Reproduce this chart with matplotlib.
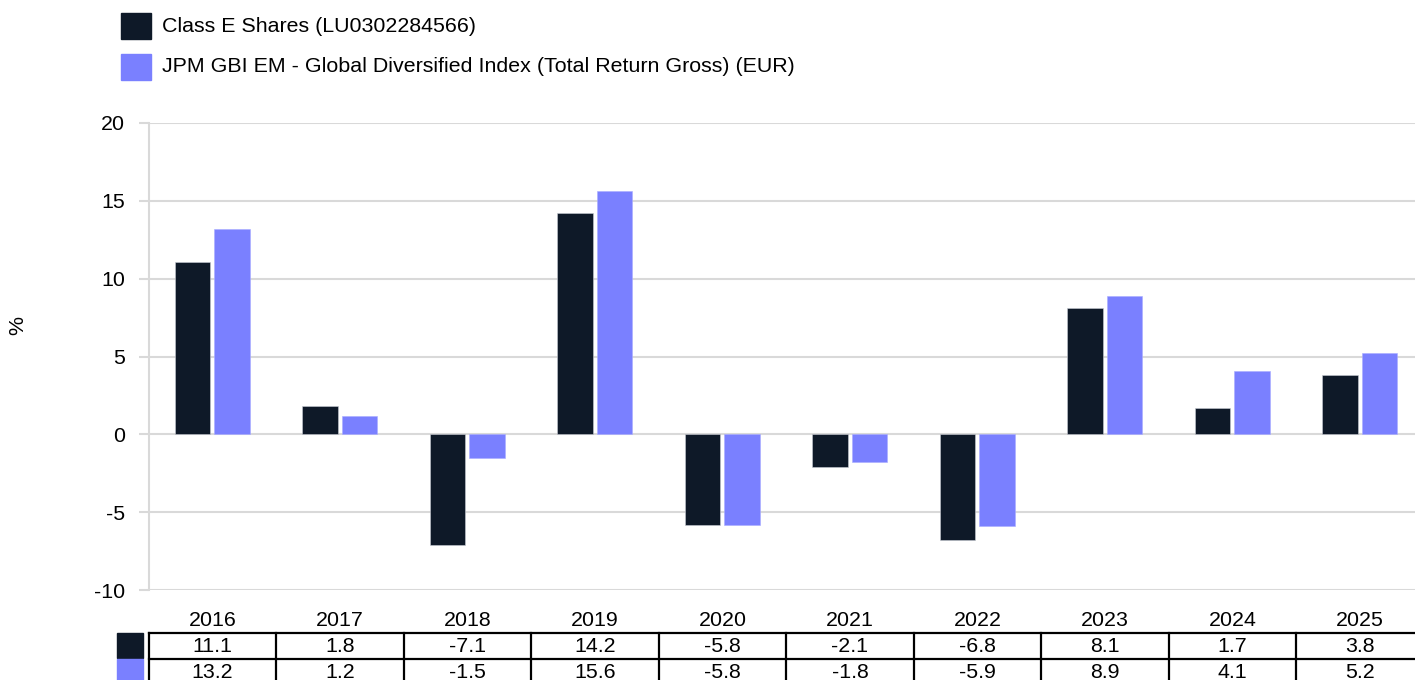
import matplotlib
matplotlib.use("Agg")
import matplotlib.pyplot as plt
from matplotlib.patches import Rectangle
import numpy as np

plt.rcParams["font.family"] = ["Liberation Sans", "DejaVu Sans"]

years = ["2016", "2017", "2018", "2019", "2020", "2021", "2022", "2023", "2024", "2025"]
fund = [11.1, 1.8, -7.1, 14.2, -5.8, -2.1, -6.8, 8.1, 1.7, 3.8]
index = [13.2, 1.2, -1.5, 15.6, -5.8, -1.8, -5.9, 8.9, 4.1, 5.2]
fund_label = "Class E Shares (LU0302284566)"
index_label = "JPM GBI EM - Global Diversified Index (Total Return Gross) (EUR)"

DARK = "#0E1928"
BLUE = "#7A80FF"
GRID = "#D9D9D9"
FS = 15.4

W, H = 1415, 680
LEFT, RIGHT = 148.7, 1423.7   # plot runs past the right edge of the picture
COL = (RIGHT - LEFT) / len(years)
fig = plt.figure(figsize=(W / 100, H / 100), dpi=100)

def fx(px):
    return px / W

def fy(py):
    return 1 - py / H

# main bar axes
ax = fig.add_axes([fx(LEFT), fy(590), fx(RIGHT) - fx(LEFT), fy(123) - fy(590)])
x = np.arange(len(years))
ax.bar(x - 0.155, fund, width=0.278, color=DARK, edgecolor="#c8ccd4", linewidth=0.4, zorder=3)
ax.bar(x + 0.152, index, width=0.278, color=BLUE, edgecolor="#a9adff", linewidth=0.4, zorder=3)
ax.set_xlim(-0.5, len(years) - 0.5)
ax.set_ylim(-10, 20)
ax.set_yticks([-10, -5, 0, 5, 10, 15, 20])
ax.set_yticklabels(["-10", "-5", "0", "5", "10", "15", "20"], fontsize=FS)
ax.set_xticks([])
for s in ["top", "right", "bottom"]:
    ax.spines[s].set_visible(False)
ax.spines["left"].set_color(GRID)
ax.spines["left"].set_linewidth(1.5)
ax.tick_params(axis="y", length=7, width=1.5, color=GRID, pad=10)
ax.grid(axis="y", color=GRID, linewidth=1.5, zorder=0)

fig.text(fx(18), fy(325), "%", rotation=90, fontsize=FS, ha="center", va="center")

# year labels
for i, yr in enumerate(years):
    fig.text(fx(LEFT + (i + 0.5) * COL), fy(621), yr, ha="center", va="center", fontsize=FS)

# table
tax = fig.add_axes([fx(LEFT), fy(685), fx(RIGHT) - fx(LEFT), fy(633) - fy(685)])
tax.set_xlim(-0.5, len(years) - 0.5)
tax.set_ylim(0, 2)
tax.axis("off")
for i in range(len(years) + 1):
    tax.plot([i - 0.5, i - 0.5], [0, 2], color="black", lw=1.6, clip_on=False)
for yv in [0, 1, 2]:
    tax.plot([-0.5, len(years) - 0.5], [yv, yv], color="black", lw=1.6, clip_on=False)
for i in range(len(years)):
    tax.text(i, 1.5, f"{fund[i]:.1f}", ha="center", va="center", fontsize=FS)
    tax.text(i, 0.5, f"{index[i]:.1f}", ha="center", va="center", fontsize=FS)
sw = 25.4 / COL
sx = -0.5 - 31.4 / COL
tax.add_patch(Rectangle((sx, 1.04), sw, 0.96, color=DARK, clip_on=False))
tax.add_patch(Rectangle((sx, 0.0), sw, 1.0, color=BLUE, clip_on=False))

# legend
for py, col, lab in [(13, DARK, fund_label), (54, BLUE, index_label)]:
    fig.patches.append(Rectangle((fx(121), fy(py + 26)), fx(30), 26 / H, color=col,
                                 transform=fig.transFigure, figure=fig))
    fig.text(fx(162), fy(py + 13), lab, fontsize=FS, ha="left", va="center")

fig.savefig("out.png", dpi=100)
